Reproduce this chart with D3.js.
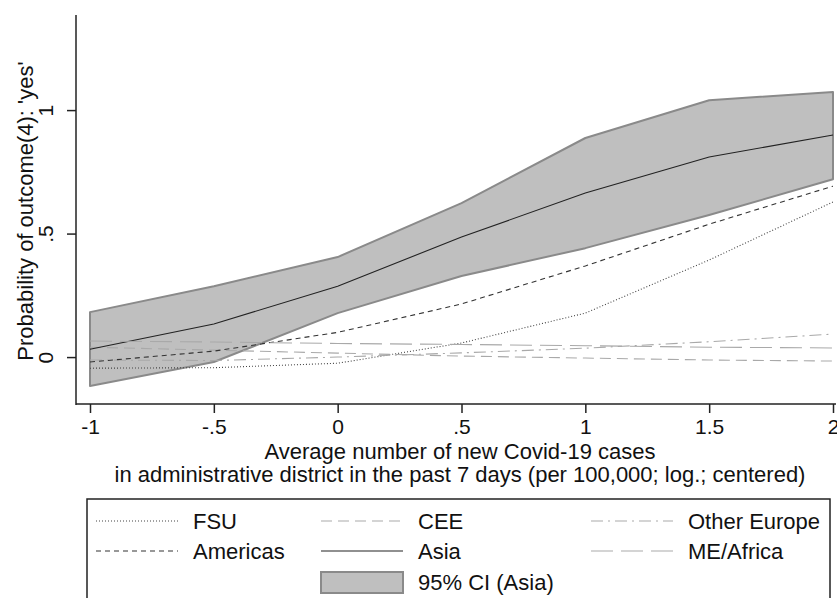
<!DOCTYPE html>
<html>
<head>
<meta charset="utf-8">
<script src="https://cdn.jsdelivr.net/npm/d3@7"></script>
<style>
  body { margin: 0; background: #fff; }
  svg { display: block; font-family: "Liberation Sans", Arial, sans-serif; }
</style>
</head>
<body>
<svg id="chart" width="837" height="598"></svg>
<script>
// x positions (log cases, centered)
var xVals = [-1, -0.5, 0, 0.5, 1, 1.5, 2];

// predicted probabilities per region
var fsu         = [-0.045, -0.043, -0.025, 0.057, 0.178, 0.393, 0.628];
var cee         = [0.040, 0.028, 0.016, 0.004, -0.004, -0.012, -0.016];
var otherEurope = [-0.012, -0.014, 0.000, 0.017, 0.036, 0.062, 0.093];
var americas    = [-0.020, 0.024, 0.100, 0.215, 0.369, 0.538, 0.692];
var asia        = [0.032, 0.134, 0.287, 0.486, 0.664, 0.810, 0.899];
var meAfrica    = [0.065, 0.061, 0.055, 0.051, 0.046, 0.040, 0.037];

// 95% CI for Asia
var asiaLower = [-0.117, -0.020, 0.178, 0.328, 0.441, 0.575, 0.720];
var asiaUpper = [0.182, 0.287, 0.405, 0.623, 0.887, 1.040, 1.073];

var xTicks = [-1, -0.5, 0, 0.5, 1, 1.5, 2];
var yTicks = [0, 0.5, 1];

var yTitle = "Probability of outcome(4): 'yes'";
var xTitle = ["Average number of new Covid-19 cases",
              "in administrative district in the past 7 days (per 100,000; log.; centered)"];

var series = [
  {name: "FSU",          values: fsu,         color: "#444",    dash: "1,2"},
  {name: "CEE",          values: cee,         color: "#a9a9a9", dash: "11,6"},
  {name: "Other Europe", values: otherEurope, color: "#a9a9a9", dash: "12,5,2,5"},
  {name: "Americas",     values: americas,    color: "#333",    dash: "5,4"},
  {name: "Asia",         values: asia,        color: "#222",    dash: null},
  {name: "ME/Africa",    values: meAfrica,    color: "#a9a9a9", dash: "22,8"}
];

var svg = d3.select("#chart");

var x = d3.scaleLinear().domain([-1, 2]).range([90, 833]);
var y = d3.scaleLinear().domain([-0.19, 1.385]).range([404, 15]);
var axisLeftX = 76;

// CI band
var area = d3.area()
  .x((d, i) => x(xVals[i]))
  .y0((d, i) => y(asiaLower[i]))
  .y1((d, i) => y(asiaUpper[i]));

svg.append("path")
  .datum(asiaUpper)
  .attr("d", area)
  .attr("fill", "#bfbfbf")
  .attr("stroke", "#8a8a8a")
  .attr("stroke-width", 2)
  .attr("stroke-linejoin", "round");

var line = d3.line()
  .x((d, i) => x(xVals[i]))
  .y(d => y(d));

svg.append("g").selectAll("path")
  .data(series)
  .enter().append("path")
  .attr("d", d => line(d.values))
  .attr("fill", "none")
  .attr("stroke", d => d.color)
  .attr("stroke-width", 1.1)
  .attr("stroke-dasharray", d => d.dash);

// axes
var fmt = d => String(d).replace("0.", ".");

var gx = svg.append("g")
  .attr("transform", `translate(0,404)`)
  .call(d3.axisBottom(x).tickValues(xTicks).tickFormat(fmt).tickSize(9).tickSizeOuter(0));
gx.select(".domain").remove();
gx.append("line").attr("x1", axisLeftX).attr("x2", 836).attr("stroke", "#222").attr("stroke-width", 1.5);
gx.selectAll(".tick line").attr("stroke", "#222").attr("stroke-width", 1.5);
gx.selectAll(".tick text")
  .attr("y", 30).attr("dy", null)
  .attr("font-size", "21px").attr("fill", "#111")
  .style("font-family", "Liberation Sans, Arial, sans-serif");

var gy = svg.append("g")
  .attr("transform", `translate(${axisLeftX},0)`)
  .call(d3.axisLeft(y).tickValues(yTicks).tickFormat(fmt).tickSize(9).tickSizeOuter(0));
gy.select(".domain").remove();
gy.append("line").attr("y1", 15).attr("y2", 405).attr("stroke", "#222").attr("stroke-width", 1.5);
gy.selectAll(".tick line").attr("stroke", "#222").attr("stroke-width", 1.5);
gy.selectAll(".tick text")
  .attr("x", null).attr("dy", null)
  .attr("transform", "translate(-23,0) rotate(-90)")
  .attr("text-anchor", "middle")
  .attr("font-size", "21px").attr("fill", "#111")
  .style("font-family", "Liberation Sans, Arial, sans-serif");

// titles
svg.append("text")
  .attr("transform", "translate(33,211) rotate(-90)")
  .attr("text-anchor", "middle")
  .attr("font-size", "22px").attr("fill", "#111")
  .text(yTitle);

svg.selectAll(".xtitle")
  .data(xTitle)
  .enter().append("text")
  .attr("class", "xtitle")
  .attr("x", 460)
  .attr("y", (d, i) => 459 + i * 23)
  .attr("text-anchor", "middle")
  .attr("font-size", "22px").attr("fill", "#111")
  .text(d => d);

// legend
var legend = svg.append("g");
legend.append("rect")
  .attr("x", 87).attr("y", 499).attr("width", 743).attr("height", 140)
  .attr("fill", "none").attr("stroke", "#222").attr("stroke-width", 1.5);

var colX = [96, 321, 591];
var rowY = [521, 551, 581];
var keyW = 82;

var items = legend.selectAll(".item")
  .data(series)
  .enter().append("g")
  .attr("class", "item")
  .attr("transform", (d, i) => `translate(${colX[i % 3]},${rowY[Math.floor(i / 3)]})`);

items.append("line")
  .attr("x1", 0).attr("x2", keyW)
  .attr("stroke", d => d.color)
  .attr("stroke-width", 1.1)
  .attr("stroke-dasharray", d => d.dash);

items.append("text")
  .attr("x", keyW + 15).attr("y", 7.5)
  .attr("font-size", "22px").attr("fill", "#111")
  .text(d => d.name);

var ci = legend.append("g").attr("transform", `translate(${colX[1]},${rowY[2]})`);
ci.append("rect")
  .attr("x", 0).attr("y", -9).attr("width", keyW).attr("height", 21)
  .attr("fill", "#bfbfbf").attr("stroke", "#8a8a8a").attr("stroke-width", 2);
ci.append("text")
  .attr("x", keyW + 15).attr("y", 9)
  .attr("font-size", "22px").attr("fill", "#111")
  .text("95% CI (Asia)");
</script>
</body>
</html>
